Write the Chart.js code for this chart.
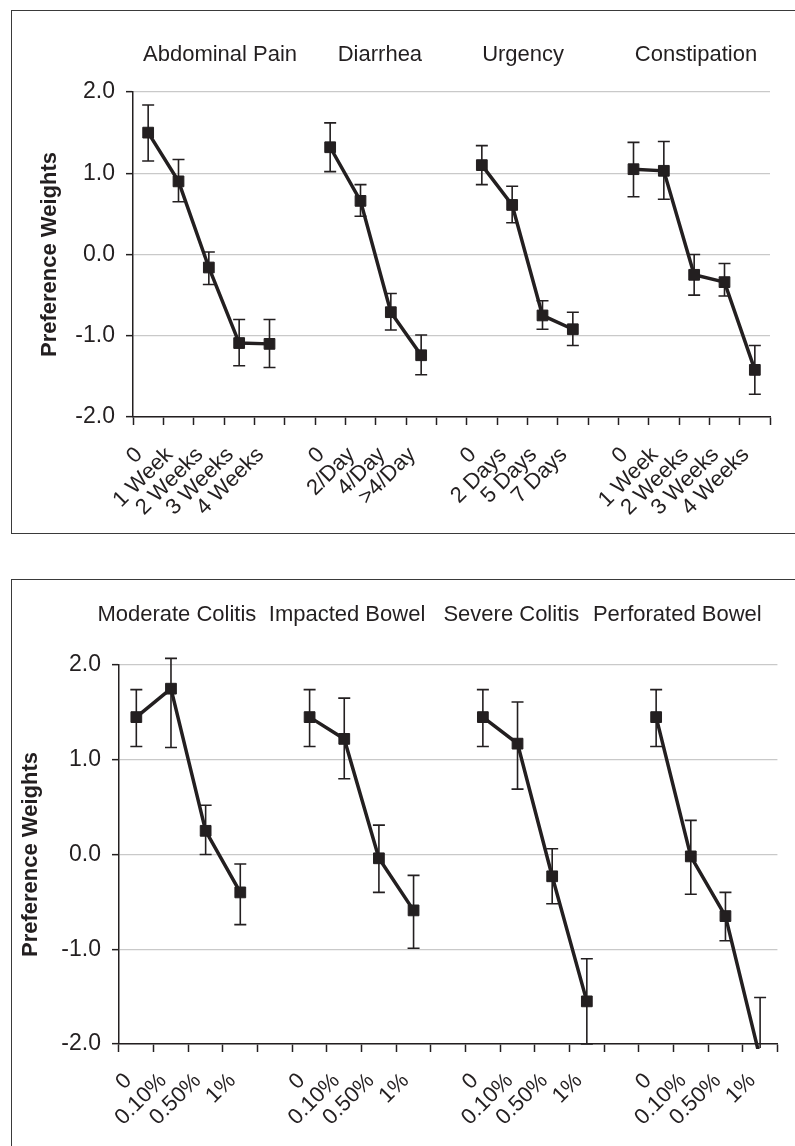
<!DOCTYPE html>
<html>
<head>
<meta charset="utf-8">
<script src="https://cdn.jsdelivr.net/npm/chart.js@4.4.1/dist/chart.umd.min.js"></script>
<style>
  html, body { margin: 0; padding: 0; background: #fff; }
  body { width: 795px; height: 1146px; position: relative; overflow: hidden; }
  .box { position: absolute; border: 1.5px solid #3a3a3a; border-right: none; }
  canvas { position: absolute; left: 0; }
</style>
</head>
<body>
<div class="box" style="left:11px; top:10px; width:800px; height:522px;"></div>
<div class="box" style="left:11px; top:579px; width:800px; height:600px; border-bottom:none;"></div>
<canvas id="chartTop" width="795" height="560" style="top:0"></canvas>
<canvas id="chartBottom" width="795" height="576" style="top:570px"></canvas>
<script>
// ---- datos ----
const topLabels = ['0', '1 Week', '2 Weeks', '3 Weeks', '4 Weeks', '',
                   '0', '2/Day', '4/Day', '>4/Day', '',
                   '0', '2 Days', '5 Days', '7 Days', '',
                   '0', '1 Week', '2 Weeks', '3 Weeks', '4 Weeks'];
const topGroups = ['Abdominal Pain', 'Diarrhea', 'Urgency', 'Constipation'];
const topWeights = [1.50, 0.90, -0.16, -1.09, -1.10, null,
                    1.32, 0.66, -0.71, -1.24, null,
                    1.10, 0.61, -0.75, -0.92, null,
                    1.05, 1.03, -0.25, -0.34, -1.42];
const topHigh = [1.84, 1.17, 0.03, -0.80, -0.80, null,
                 1.62, 0.86, -0.48, -0.99, null,
                 1.34, 0.84, -0.57, -0.71, null,
                 1.38, 1.39, 0.00, -0.11, -1.12];
const topLow = [1.15, 0.65, -0.37, -1.37, -1.39, null,
                1.02, 0.47, -0.93, -1.48, null,
                0.86, 0.39, -0.92, -1.12, null,
                0.71, 0.68, -0.50, -0.51, -1.72];

const bottomLabels = ['0', '0.10%', '0.50%', '1%', '',
                      '0', '0.10%', '0.50%', '1%', '',
                      '0', '0.10%', '0.50%', '1%', '',
                      '0', '0.10%', '0.50%', '1%'];
const bottomGroups = ['Moderate Colitis', 'Impacted Bowel', 'Severe Colitis', 'Perforated Bowel'];
const bottomWeights = [1.45, 1.75, 0.25, -0.40, null,
                       1.45, 1.22, -0.04, -0.59, null,
                       1.45, 1.17, -0.23, -1.55, null,
                       1.45, -0.02, -0.65, -2.15];
const bottomHigh = [1.74, 2.07, 0.52, -0.10, null,
                    1.74, 1.65, 0.31, -0.22, null,
                    1.74, 1.61, 0.06, -1.10, null,
                    1.74, 0.36, -0.40, -1.51];
const bottomLow = [1.14, 1.13, 0.00, -0.74, null,
                   1.14, 0.80, -0.40, -0.99, null,
                   1.14, 0.69, -0.52, -2.00, null,
                   1.14, -0.42, -0.91, -2.79];

const yTicks = [-2, -1, 0, 1, 2];
const yTitle = 'Preference Weights';

// posición de los títulos de grupo (en unidades de categoría)
const topGroupAt = [2.37, 7.64, 12.36, 18.06];
const bottomGroupAt = [1.17, 6.08, 10.82, 15.61];

const INK = '#231f20';
const FONT = "'Liberation Sans', Arial, sans-serif";

// barras de error
const errorBars = {
    id: 'errorBars',
    beforeDatasetsDraw(chart, args, opts) {
        const { ctx, chartArea } = chart;
        const x = chart.scales.x, y = chart.scales.y;
        ctx.save();
        ctx.beginPath();
        ctx.rect(chartArea.left, chartArea.top - 10, chartArea.right - chartArea.left, chartArea.bottom - chartArea.top + 14);
        ctx.clip();
        ctx.strokeStyle = INK;
        ctx.lineWidth = 1.6;
        opts.low.forEach((lo, i) => {
            const hi = opts.high[i];
            if (lo === null || hi === null) return;
            const px = x.getPixelForValue(i);
            const y1 = y.getPixelForValue(hi), y2 = y.getPixelForValue(lo);
            ctx.beginPath();
            ctx.moveTo(px, y1); ctx.lineTo(px, y2);
            ctx.moveTo(px - 6, y1); ctx.lineTo(px + 6, y1);
            ctx.moveTo(px - 6, y2); ctx.lineTo(px + 6, y2);
            ctx.stroke();
        });
        ctx.restore();
    }
};

// títulos de grupo encima del gráfico
const groupTitles = {
    id: 'groupTitles',
    afterDraw(chart, args, opts) {
        const { ctx, chartArea } = chart;
        const x = chart.scales.x;
        ctx.save();
        ctx.fillStyle = INK;
        ctx.font = '22px ' + FONT;
        ctx.textAlign = 'center';
        ctx.textBaseline = 'middle';
        opts.names.forEach((name, i) => {
            ctx.fillText(name, x.getPixelForValue(opts.at[i]), chartArea.top - opts.gap);
        });
        ctx.restore();
    }
};

function crearGrafica(id, labels, weights, low, high, groups, groupAt, cfg) {
    return new Chart(document.getElementById(id), {
        type: 'line',
        data: {
            labels,
            datasets: [{
                data: weights,
                borderColor: INK,
                backgroundColor: INK,
                borderWidth: 3.5,
                pointStyle: 'rect',
                pointRadius: 7.6,
                pointBorderWidth: 1,
                spanGaps: false,
                tension: 0,
                clip: 5
            }]
        },
        options: {
            responsive: false,
            animation: false,
            devicePixelRatio: 1,
            layout: { padding: cfg.padding },
            plugins: {
                legend: { display: false },
                tooltip: { enabled: false },
                errorBars: { low, high },
                groupTitles: { names: groups, at: groupAt, gap: cfg.titleGap }
            },
            scales: {
                x: {
                    offset: true,
                    grid: { offset: true, drawOnChartArea: false, tickLength: 8, tickColor: INK, tickWidth: 1.5 },
                    border: { color: INK, width: 1.5 },
                    ticks: {
                        autoSkip: false, maxRotation: 45, minRotation: 45,
                        padding: cfg.xPad, labelOffset: cfg.xShift,
                        color: INK, font: { family: FONT, size: 22 }
                    },
                    afterFit: s => { s.height = cfg.xHeight; }
                },
                y: {
                    min: -2, max: 2,
                    afterBuildTicks: s => { s.ticks = yTicks.map(v => ({ value: v })); },
                    grid: { color: '#c9c9c9', lineWidth: 1.3, tickColor: INK, tickLength: 7, tickWidth: 1.5 },
                    border: { color: INK, width: 1.5 },
                    ticks: {
                        padding: 11, color: INK, font: { family: FONT, size: 23 },
                        callback: v => Number(v).toFixed(1)
                    },
                    title: {
                        display: true, text: yTitle, color: INK,
                        font: { family: FONT, size: 22, weight: 'bold' },
                        padding: { top: cfg.yTitlePad, bottom: 0 }
                    },
                    afterFit: s => { s.width = cfg.yWidth; }
                }
            }
        },
        plugins: [errorBars, groupTitles]
    });
}

crearGrafica('chartTop', topLabels, topWeights, topLow, topHigh, topGroups, topGroupAt, {
    padding: { top: 92, right: 25, bottom: 33, left: 0 },
    titleGap: 37, xPad: 17, xShift: -9, xHeight: 110, yWidth: 133, yTitlePad: 37
});

crearGrafica('chartBottom', bottomLabels, bottomWeights, bottomLow, bottomHigh, bottomGroups, bottomGroupAt, {
    padding: { top: 95, right: 6, bottom: 0, left: 0 },
    titleGap: 50, xPad: 16, xShift: -8, xHeight: 102, yWidth: 119, yTitlePad: 18
});
</script>
</body>
</html>
